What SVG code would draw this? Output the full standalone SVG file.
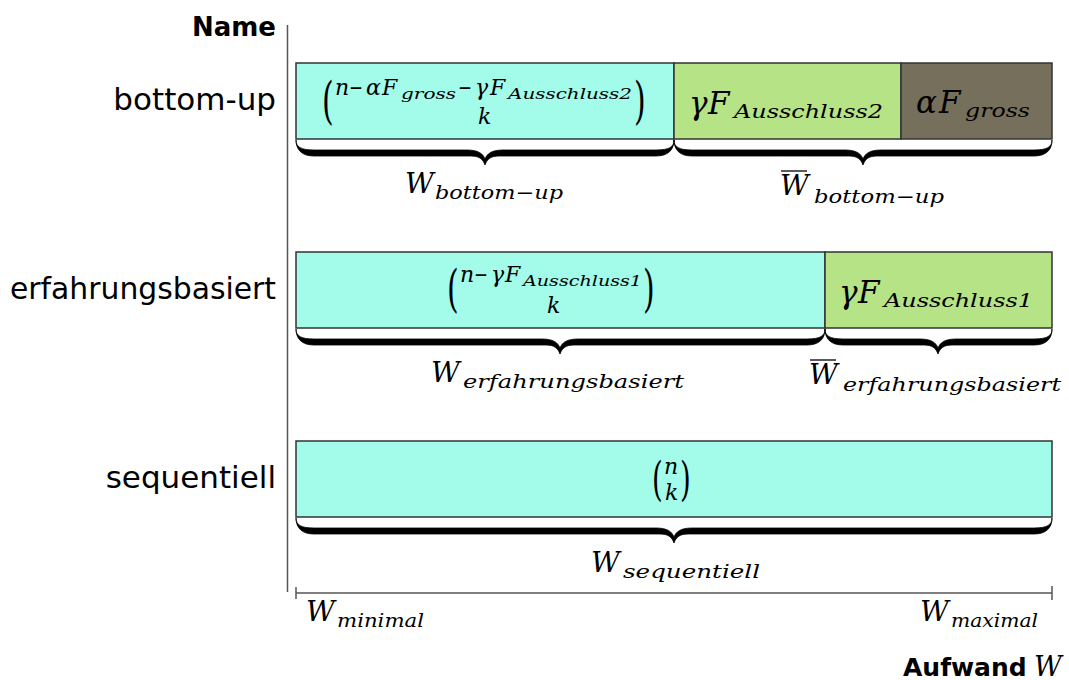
<svg xmlns="http://www.w3.org/2000/svg" width="1069" height="680" viewBox="0 0 1069 680">
<style>
.lbl{font-family:"DejaVu Sans",sans-serif;font-size:31px;fill:#000;text-anchor:end}
.bold{font-family:"DejaVu Sans",sans-serif;font-weight:bold;fill:#000}
.m{font-family:"DejaVu Serif",serif;font-style:italic;fill:#000}
.r{font-family:"DejaVu Serif",serif;font-style:normal;fill:#000}
.cy{fill:#a3fbe9;stroke:#333;stroke-width:1.5}
.gr{fill:#b5e386;stroke:#333;stroke-width:1.5}
.dk{fill:#766f5c;stroke:#333;stroke-width:1.5}
.ax{stroke:#555;stroke-width:1.5;fill:none}
.brace{fill:#000;stroke:#000;stroke-width:0.8}
.ol{stroke:#000;stroke-width:1.3}
</style>
<rect width="1069" height="680" fill="#fff"/>
<g id="axes">
<line class="ax" x1="287.5" y1="25" x2="287.5" y2="592"/>
<line class="ax" x1="296" y1="593" x2="1052" y2="593"/>
<line class="ax" x1="296" y1="587" x2="296" y2="599"/>
<line class="ax" x1="1052" y1="586" x2="1052" y2="600"/>
<text class="bold" x="276" y="36" font-size="26" text-anchor="end">Name</text>
<text class="bold" x="903" y="676" font-size="25">Aufwand</text>
<text class="m" x="1034" y="676" font-size="27">W</text>
<text class="m" x="306" y="621" font-size="28">W</text>
<text class="m" x="337" y="627" font-size="19" textLength="87" lengthAdjust="spacingAndGlyphs">minimal</text>
<text class="m" x="920" y="621" font-size="28">W</text>
<text class="m" x="951" y="627" font-size="19" textLength="87" lengthAdjust="spacingAndGlyphs">maximal</text>
</g>
<g id="row-bottom-up">
<text class="lbl" x="276" y="110">bottom-up</text>
<rect class="cy" x="296" y="63" width="378" height="76"/>
<rect class="gr" x="674" y="63" width="227" height="76"/>
<rect class="dk" x="901" y="63" width="151" height="76"/>
<text class="r" transform="translate(322,118) scale(0.6,1)" font-size="50">(</text>
<text class="r" transform="translate(634,118) scale(0.6,1)" font-size="50">)</text>
<text class="m" x="335" y="95" font-size="22">n</text>
<text class="r" x="349" y="95" font-size="22" textLength="14" lengthAdjust="spacingAndGlyphs">−</text>
<text class="m" x="366" y="95" font-size="22">α</text>
<text class="m" x="382" y="95" font-size="22">F</text>
<text class="m" x="401" y="99" font-size="15" textLength="55" lengthAdjust="spacingAndGlyphs">gross</text>
<text class="r" x="458" y="95" font-size="22" textLength="14" lengthAdjust="spacingAndGlyphs">−</text>
<text class="m" x="475" y="95" font-size="22">γ</text>
<text class="m" x="490" y="95" font-size="22">F</text>
<text class="m" x="508" y="99" font-size="15" textLength="124" lengthAdjust="spacingAndGlyphs">Ausschluss2</text>
<text class="m" x="478" y="124" font-size="22">k</text>
<text class="m" x="689" y="114" font-size="31">γ</text>
<text class="m" x="708" y="114" font-size="31">F</text>
<text class="m" x="734" y="118" font-size="19" textLength="149" lengthAdjust="spacingAndGlyphs">Ausschluss2</text>
<text class="m" x="916" y="113" font-size="31">α</text>
<text class="m" x="939" y="113" font-size="31">F</text>
<text class="m" x="965" y="117" font-size="19" textLength="65" lengthAdjust="spacingAndGlyphs">gross</text>
<text class="m" x="405" y="193" font-size="28">W</text>
<text class="m" x="435" y="199" font-size="19" textLength="128" lengthAdjust="spacingAndGlyphs">bottom−up</text>
<line class="ol" x1="781" y1="171" x2="807" y2="171"/>
<text class="m" x="780" y="195" font-size="28">W</text>
<text class="m" x="814" y="203" font-size="19" textLength="130" lengthAdjust="spacingAndGlyphs">bottom−up</text>
</g>
<g id="row-erfahrungsbasiert">
<text class="lbl" x="276" y="299" textLength="266" lengthAdjust="spacingAndGlyphs">erfahrungsbasiert</text>
<rect class="cy" x="296" y="252" width="529" height="76"/>
<rect class="gr" x="825" y="252" width="227" height="76"/>
<text class="r" transform="translate(447,306) scale(0.6,1)" font-size="50">(</text>
<text class="r" transform="translate(643,306) scale(0.6,1)" font-size="50">)</text>
<text class="m" x="460" y="282" font-size="22">n</text>
<text class="r" x="474" y="282" font-size="22" textLength="14" lengthAdjust="spacingAndGlyphs">−</text>
<text class="m" x="491" y="282" font-size="22">γ</text>
<text class="m" x="505" y="282" font-size="22">F</text>
<text class="m" x="523" y="286" font-size="15" textLength="119" lengthAdjust="spacingAndGlyphs">Ausschluss1</text>
<text class="m" x="547" y="313" font-size="22">k</text>
<text class="m" x="839" y="303" font-size="31">γ</text>
<text class="m" x="858" y="303" font-size="31">F</text>
<text class="m" x="884" y="307" font-size="19" textLength="149" lengthAdjust="spacingAndGlyphs">Ausschluss1</text>
<text class="m" x="431" y="382" font-size="28">W</text>
<text class="m" x="463" y="388" font-size="19" textLength="221" lengthAdjust="spacingAndGlyphs">erfahrungsbasiert</text>
<line class="ol" x1="810" y1="360" x2="836" y2="360"/>
<text class="m" x="809" y="384" font-size="28">W</text>
<text class="m" x="843" y="391" font-size="19" textLength="218" lengthAdjust="spacingAndGlyphs">erfahrungsbasiert</text>
</g>
<g id="row-sequentiell">
<text class="lbl" x="276" y="488">sequentiell</text>
<rect class="cy" x="296" y="441" width="756" height="76"/>
<text class="r" transform="translate(652,495) scale(0.6,1)" font-size="46">(</text>
<text class="r" transform="translate(680,495) scale(0.6,1)" font-size="46">)</text>
<text class="m" x="664" y="474" font-size="22">n</text>
<text class="m" x="665" y="500" font-size="22">k</text>
<text class="m" x="591" y="572" font-size="28">W</text>
<text class="m" x="623" y="578" font-size="19" textLength="137" lengthAdjust="spacingAndGlyphs">sequentiell</text>
</g>
<g id="connectors">
<path class="brace" d="M296,140 C296,147 301,150 314,150 L467,150 C479,150 483,154 485,159 C487,154 491,150 503,150 L656,150 C669,150 674,147 674,140 C674,150 668,156 656,156 L499,156 C491,156 487,159 485,165 C483,159 479,156 471,156 L314,156 C302,156 296,150 296,140 Z"/>
<path class="brace" d="M674,140 C674,147 679,150 692,150 L845,150 C857,150 861,154 863,159 C865,154 869,150 881,150 L1034,150 C1047,150 1052,147 1052,140 C1052,150 1046,156 1034,156 L877,156 C869,156 865,159 863,165 C861,159 857,156 849,156 L692,156 C680,156 674,150 674,140 Z"/>
<path class="brace" d="M296,329 C296,336 301,339 314,339 L542,339 C554,339 558,343 560,348 C562,343 566,339 578,339 L807,339 C820,339 825,336 825,329 C825,339 819,345 807,345 L574,345 C566,345 562,348 560,354 C558,348 554,345 546,345 L314,345 C302,345 296,339 296,329 Z"/>
<path class="brace" d="M825,329 C825,336 830,339 843,339 L920,339 C932,339 936,343 938,348 C940,343 944,339 956,339 L1034,339 C1047,339 1052,336 1052,329 C1052,339 1046,345 1034,345 L952,345 C944,345 940,348 938,354 C936,348 932,345 924,345 L843,345 C831,345 825,339 825,329 Z"/>
<path class="brace" d="M296,518 C296,525 301,528 314,528 L656,528 C668,528 672,532 674,537 C676,532 680,528 692,528 L1034,528 C1047,528 1052,525 1052,518 C1052,528 1046,534 1034,534 L688,534 C680,534 676,537 674,543 C672,537 668,534 660,534 L314,534 C302,534 296,528 296,518 Z"/>
</g>
</svg>
